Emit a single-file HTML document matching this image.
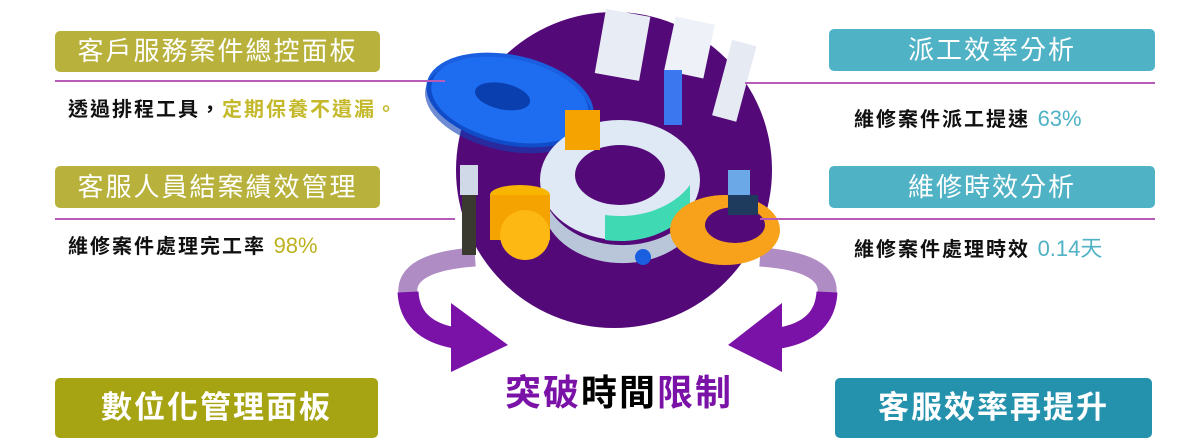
<!DOCTYPE html>
<html><head><meta charset="utf-8"><style>
body{margin:0;width:1200px;height:446px;background:#fff;position:relative;overflow:hidden;font-family:"Liberation Sans","Noto Sans CJK TC",sans-serif}
.b{position:absolute;border-radius:5px;color:#fff;text-align:center;letter-spacing:2px}
.l{position:absolute;height:2px;background:#b65bb8}
.t{position:absolute;font-size:20px;font-weight:bold;color:#111;white-space:nowrap;letter-spacing:2px}
.n{font-weight:normal;font-size:22px;letter-spacing:0}
</style></head><body>
<svg width="1200" height="446" style="position:absolute;left:0;top:0">
<path d="M 475 257 Q 404 262 408 294" stroke="#b08cc4" stroke-width="19" fill="none"/>
<path d="M 760 257 Q 831 262 827 294" stroke="#b08cc4" stroke-width="19" fill="none"/>
<circle cx="614" cy="170" r="158" fill="#530a78"/>
<path d="M 408 292 Q 410 330 455 338" stroke="#7b12a8" stroke-width="21" fill="none"/>
<polygon points="451,303 508,345 451,372" fill="#7b12a8"/>
<path d="M 827 292 Q 825 330 780 338" stroke="#7b12a8" stroke-width="21" fill="none"/>
<polygon points="782,303 728,345 782,372" fill="#7b12a8"/>
<g transform="translate(510,100) rotate(12)">
<ellipse cx="0" cy="0" rx="85" ry="45" fill="#1a5fe0"/>
<ellipse cx="0" cy="6" rx="85" ry="45" fill="#0b3fb8" opacity=".6"/>
<ellipse cx="0" cy="0" rx="80" ry="41" fill="#1e6cf0"/>
<ellipse cx="-8" cy="-2" rx="28" ry="13" fill="#0a3fb0"/>
</g>
<ellipse cx="620" cy="180" rx="80" ry="60" fill="#dfe8f5"/>
<path d="M 545 200 A 80 60 0 0 0 700 200 L 700 218 A 80 60 0 0 1 545 218 Z" fill="#b9c6d9"/>
<path d="M 605 240 A 80 60 0 0 0 690 210 L 690 185 A 80 60 0 0 1 605 215 Z" fill="#3fd9b3"/>
<ellipse cx="620" cy="175" rx="45" ry="30" fill="#530a78"/>
<rect x="600" y="12" width="45" height="65" fill="#e8edf5" transform="rotate(10 620 45)"/>
<rect x="670" y="20" width="40" height="55" fill="#eef2f8" transform="rotate(12 690 45)"/>
<rect x="722" y="42" width="25" height="78" fill="#e5eaf3" transform="rotate(15 735 80)"/>
<ellipse cx="520" cy="195" rx="30" ry="10" fill="#f7b500"/>
<rect x="490" y="195" width="60" height="45" fill="#f5a300"/>
<ellipse cx="525" cy="235" rx="25" ry="25" fill="#fdb813"/>
<ellipse cx="725" cy="230" rx="55" ry="35" fill="#f7a21a"/>
<ellipse cx="735" cy="225" rx="30" ry="18" fill="#530a78"/>
<circle cx="643" cy="257" r="8" fill="#1a5fe0"/>
<rect x="460" y="165" width="18" height="30" fill="#cfd9e8"/>
<rect x="462" y="195" width="14" height="60" fill="#3a3a30"/>
<rect x="728" y="170" width="22" height="25" fill="#6aa8e8"/>
<rect x="728" y="195" width="30" height="20" fill="#1e3a5c"/>
<rect x="664" y="70" width="18" height="55" fill="#3b78f0"/>
<rect x="565" y="110" width="35" height="40" fill="#f5a300"/>
</svg>
<div class="b" style="left:55px;top:31px;width:325px;height:41px;background:#b8b23c;font-size:26px;line-height:41px">客戶服務案件總控面板</div>
<div class="l" style="left:55px;top:80px;width:390px"></div>
<div class="t" style="left:68px;top:93px">透過排程工具，<span style="color:#c4b92a">定期保養不遺漏。</span></div>
<div class="b" style="left:55px;top:166px;width:325px;height:42px;background:#b8b23c;font-size:26px;line-height:42px">客服人員結案績效管理</div>
<div class="l" style="left:55px;top:218px;width:400px"></div>
<div class="t" style="left:68px;top:230px">維修案件處理完工率 <span class="n" style="color:#bdb21f">98%</span></div>
<div class="b" style="left:829px;top:29px;width:326px;height:42px;background:#4fb2c5;font-size:26px;line-height:42px">派工效率分析</div>
<div class="l" style="left:745px;top:82px;width:410px"></div>
<div class="t" style="left:854px;top:103px">維修案件派工提速 <span class="n" style="color:#4fb2c5">63%</span></div>
<div class="b" style="left:829px;top:166px;width:326px;height:42px;background:#4fb2c5;font-size:26px;line-height:42px">維修時效分析</div>
<div class="l" style="left:760px;top:218px;width:395px"></div>
<div class="t" style="left:854px;top:231px">維修案件處理時效 <span class="n" style="color:#4fb2c5">0.14天</span></div>
<div class="b" style="left:55px;top:378px;width:323px;height:60px;background:#a6a412;font-size:31px;line-height:60px;font-weight:bold">數位化管理面板</div>
<div class="b" style="left:835px;top:378px;width:317px;height:60px;background:#2592ad;font-size:31px;line-height:60px;font-weight:bold">客服效率再提升</div>
<div style="position:absolute;left:505px;top:364px;font-size:36px;font-weight:bold;letter-spacing:2px;color:#7b12a8;white-space:nowrap">突破<span style="color:#000">時間</span>限制</div>
</body></html>
